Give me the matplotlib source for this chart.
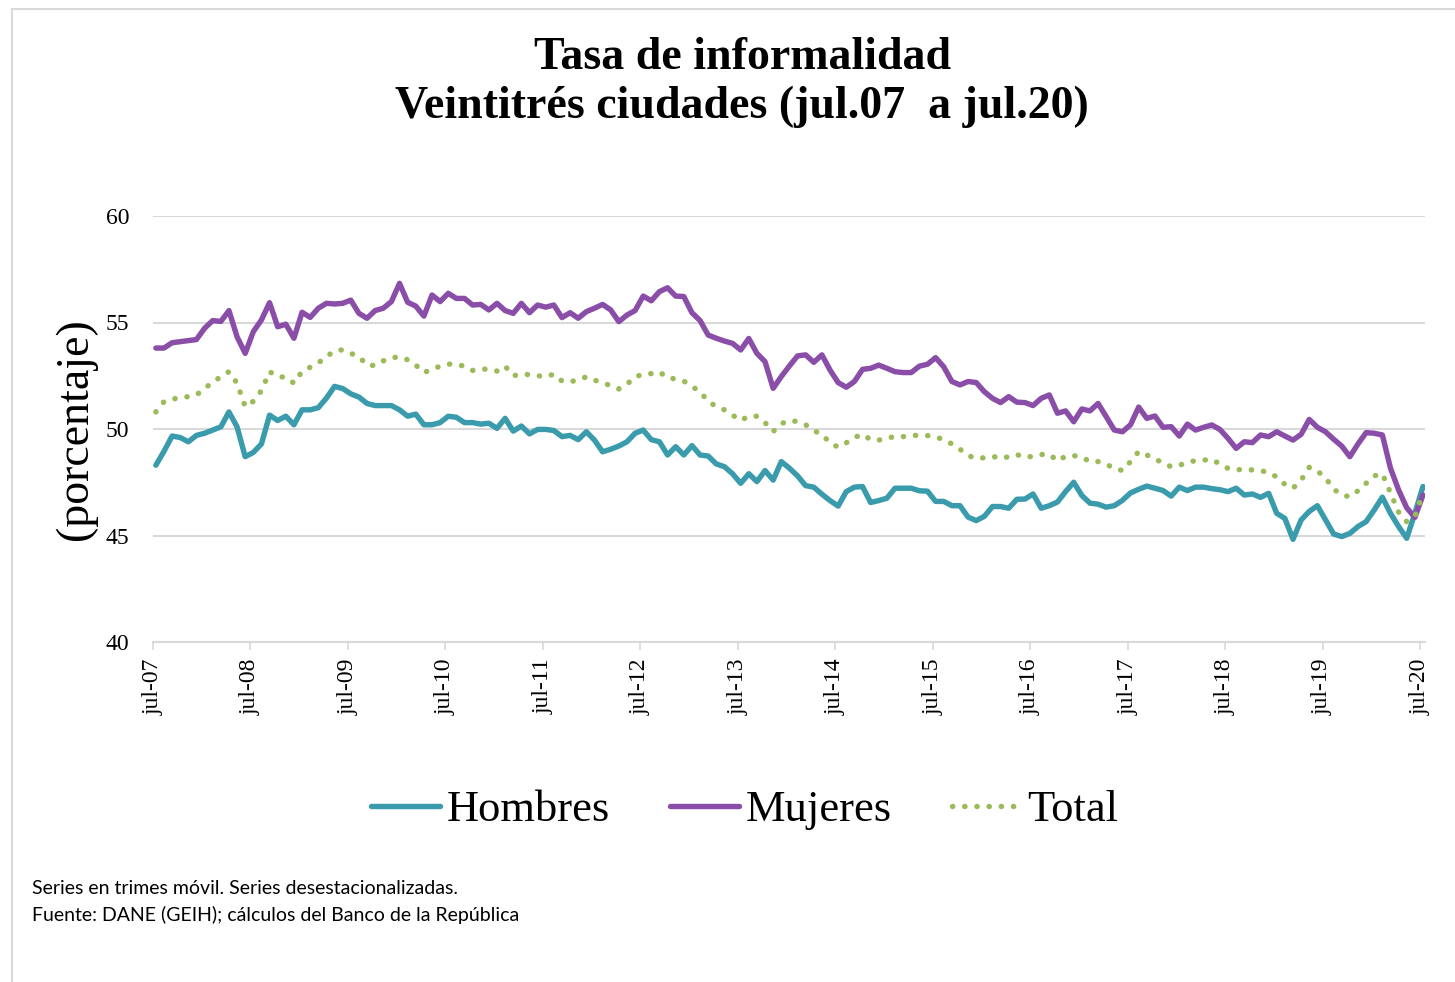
import numpy as np
import matplotlib
matplotlib.use("Agg")
import matplotlib.pyplot as plt
from matplotlib.patches import Rectangle

# ---------------- data ----------------
tick_labels = ["jul-07", "jul-08", "jul-09", "jul-10", "jul-11", "jul-12", "jul-13",
               "jul-14", "jul-15", "jul-16", "jul-17", "jul-18", "jul-19", "jul-20"]

hombres = [
    48.3, 48.95, 49.67, 49.6, 49.4, 49.7, 49.8, 49.95, 50.1, 50.8, 50.1, 48.7, 48.9,
    49.3, 50.65, 50.4, 50.6, 50.2, 50.9, 50.9, 51.0, 51.45, 52.0, 51.9, 51.65, 51.5,
    51.2, 51.1, 51.1, 51.1, 50.9, 50.6, 50.7, 50.2, 50.2, 50.3, 50.6, 50.55, 50.3,
    50.3, 50.23, 50.27, 50.03, 50.5, 49.9, 50.14, 49.77, 49.98, 49.98, 49.93, 49.64,
    49.7, 49.5, 49.87, 49.48, 48.93, 49.05, 49.2, 49.4, 49.8, 49.95, 49.5, 49.4,
    48.78, 49.17, 48.78, 49.22, 48.78, 48.73, 48.36, 48.23, 47.9, 47.45, 47.9, 47.53,
    48.05, 47.6, 48.47, 48.16, 47.8, 47.34, 47.27, 46.94, 46.64, 46.38, 47.06, 47.27,
    47.3, 46.55, 46.64, 46.75, 47.22, 47.22, 47.22, 47.1, 47.08, 46.6, 46.6, 46.4,
    46.4, 45.86, 45.7, 45.9, 46.36, 46.36, 46.28, 46.7, 46.71, 46.95, 46.28, 46.4,
    46.57, 47.06, 47.5, 46.88, 46.52, 46.47, 46.33, 46.4, 46.65, 47.0, 47.17, 47.32,
    47.22, 47.11, 46.85, 47.27, 47.11, 47.27, 47.27, 47.2, 47.15, 47.06, 47.22, 46.9,
    46.95, 46.79, 46.98, 46.04, 45.8, 44.82, 45.73, 46.13, 46.4, 45.73, 45.07, 44.95,
    45.1, 45.42, 45.65, 46.2, 46.8, 46.04, 45.42, 44.87, 46.04, 47.3]

mujeres = [
    53.8, 53.8, 54.05, 54.1, 54.15, 54.2, 54.73, 55.09, 55.05, 55.56, 54.33, 53.55,
    54.57, 55.12, 55.93, 54.8, 54.92, 54.26, 55.48, 55.24, 55.67, 55.9, 55.87, 55.9,
    56.05, 55.43, 55.2, 55.56, 55.67, 55.98, 56.84, 55.95, 55.77, 55.3, 56.29, 55.98,
    56.37, 56.13, 56.13, 55.82, 55.85, 55.59, 55.9, 55.56, 55.43, 55.9, 55.46, 55.82,
    55.72, 55.82, 55.23, 55.46, 55.2, 55.51, 55.67, 55.85, 55.59, 55.04, 55.35, 55.56,
    56.24, 56.02, 56.45, 56.63, 56.24, 56.22, 55.46, 55.09, 54.41, 54.26, 54.13, 54.02,
    53.71, 54.25, 53.55, 53.16, 51.91, 52.46, 52.96, 53.43, 53.48, 53.13, 53.48, 52.77,
    52.18, 51.96, 52.23, 52.8, 52.85, 53.0, 52.85, 52.69, 52.65, 52.65, 52.95, 53.04,
    53.35, 52.92, 52.23, 52.07, 52.23, 52.18, 51.75, 51.44, 51.24, 51.52, 51.26, 51.24,
    51.1, 51.44, 51.6, 50.74, 50.85, 50.34, 50.94, 50.85, 51.2, 50.58, 49.95, 49.87,
    50.2, 51.03, 50.5, 50.61, 50.08, 50.11, 49.67, 50.23, 49.95, 50.08, 50.19, 49.98,
    49.56, 49.09, 49.4, 49.36, 49.72, 49.64, 49.87, 49.67, 49.48, 49.75, 50.45, 50.08,
    49.87, 49.52, 49.2, 48.7, 49.3, 49.83, 49.8, 49.72, 48.16, 47.14, 46.3, 45.85, 46.9]

total = [
    50.8, 51.28, 51.4, 51.47, 51.52, 51.6, 51.9, 52.2, 52.45, 52.69, 52.15, 51.05, 51.3,
    51.8, 52.69, 52.46, 52.43, 52.15, 52.7, 52.9, 53.1, 53.4, 53.66, 53.72, 53.55, 53.4,
    53.0, 52.98, 53.2, 53.35, 53.38, 53.25, 53.0, 52.65, 52.8, 52.95, 53.05, 53.03, 52.95,
    52.75, 52.82, 52.8, 52.72, 52.95, 52.5, 52.58, 52.55, 52.5, 52.46, 52.57, 52.25,
    52.22, 52.3, 52.45, 52.3, 52.15, 52.05, 51.88, 52.1, 52.45, 52.57, 52.6, 52.68, 52.4,
    52.35, 52.25, 52.0, 51.75, 51.3, 51.05, 50.9, 50.65, 50.4, 50.6, 50.6, 50.3, 49.88,
    50.25, 50.4, 50.35, 50.2, 49.92, 49.75, 49.35, 49.15, 49.35, 49.6, 49.75, 49.5, 49.48,
    49.55, 49.66, 49.64, 49.7, 49.7, 49.69, 49.63, 49.5, 49.3, 49.05, 48.75, 48.62, 48.65,
    48.72, 48.62, 48.7, 48.8, 48.67, 48.72, 48.8, 48.82, 48.5, 48.72, 48.75, 48.68, 48.47,
    48.47, 48.35, 48.15, 48.05, 48.47, 48.94, 48.78, 48.6, 48.4, 48.23, 48.3, 48.42, 48.52,
    48.54, 48.58, 48.35, 48.15, 48.1, 48.08, 48.08, 48.05, 47.95, 47.75, 47.4, 47.22, 47.6,
    48.2, 48.03, 47.7, 47.18, 46.9, 46.82, 47.1, 47.45, 47.8, 47.9, 47.0, 46.1, 45.65,
    45.9, 47.0]

series_names = ["Hombres", "Mujeres", "Total"]
y_ticks = [40, 45, 50, 55, 60]

# ---------------- style ----------------
C_H = "#3A9BAD"
C_M = "#8A4EA9"
C_T = "#9BBB59"
GRID = "#D9D9D9"
SERIF = ["Liberation Serif", "DejaVu Serif"]
SANS = ["Lato", "DejaVu Sans"]

fig = plt.figure(figsize=(14.55, 9.82), dpi=100)
W, H = 1455, 982
L, R, T, B = 153, 1425, 216, 642
ax = fig.add_axes([L / W, 1 - B / H, (R - L) / W, (B - T) / H])

n = len(hombres)
x = np.arange(n) + 0.35  # monthly positions (jul-07 = 0)

ax.plot(x, hombres, color=C_H, lw=3.9, solid_joinstyle="round", solid_capstyle="round",
        label=series_names[0], zorder=3)
ax.plot(x, mujeres, color=C_M, lw=3.9, solid_joinstyle="round", solid_capstyle="round",
        label=series_names[1], zorder=3)
ax.plot(x, total, color=C_T, lw=3.9, linestyle=(0, (0.05, 2.2)), dash_capstyle="round",
        label=series_names[2], zorder=3)

ax.set_ylim(40, 60)
ax.set_xlim(0, n - 1 + 0.6)
ax.set_yticks(y_ticks)
ax.set_yticklabels([str(v) for v in y_ticks], family=SERIF, fontsize=17)
ax.set_xticks(np.arange(0, n, 12))
ax.set_xticklabels(tick_labels, rotation=90, family=SERIF, fontsize=17, va="top")
ax.tick_params(axis="y", length=0, pad=17)
ax.tick_params(axis="x", length=6, width=1.2, color=GRID, pad=6, direction="out")
ax.yaxis.grid(True, color=GRID, lw=1.5)
ax.set_axisbelow(True)
for s in ["top", "right", "left"]:
    ax.spines[s].set_visible(False)
ax.spines["bottom"].set_color(GRID)
ax.spines["bottom"].set_linewidth(1.5)

ax.set_ylabel("(porcentaje)", family=SERIF, fontsize=33)
ax.yaxis.set_label_coords(-0.044, 0.5)

# Title
fig.text(742 / W, 1 - 58 / H, "Tasa de informalidad", ha="center", va="center",
         family=SERIF, fontsize=33, fontweight="bold")
fig.text(742 / W, 1 - 107 / H, "Veintitrés ciudades (jul.07  a jul.20)", ha="center",
         va="center", family=SERIF, fontsize=33, fontweight="bold")

# Legend
handles, labels = ax.get_legend_handles_labels()
fig.legend(handles, labels, loc="center", bbox_to_anchor=(745 / W, 1 - 810 / H), ncol=3,
           frameon=False, prop={"family": SERIF, "size": 32}, handlelength=1.55,
           handletextpad=0.15, columnspacing=1.35)

# Footer
fig.text(32 / W, 1 - 889 / H, "Series en trimes móvil. Series desestacionalizadas.",
         ha="left", va="center", family=SANS, fontsize=14)
fig.text(32 / W, 1 - 915 / H, "Fuente: DANE (GEIH); cálculos del Banco de la República",
         ha="left", va="center", family=SANS, fontsize=14)

# Border of the chart area
fig.patches.append(Rectangle((12 / W, -0.05), 1.2, 1 - 9 / H + 0.05, transform=fig.transFigure,
                             fill=False, edgecolor="#D9D9D9", lw=1.5, zorder=0))

fig.savefig("out.png", dpi=100, facecolor="white")
